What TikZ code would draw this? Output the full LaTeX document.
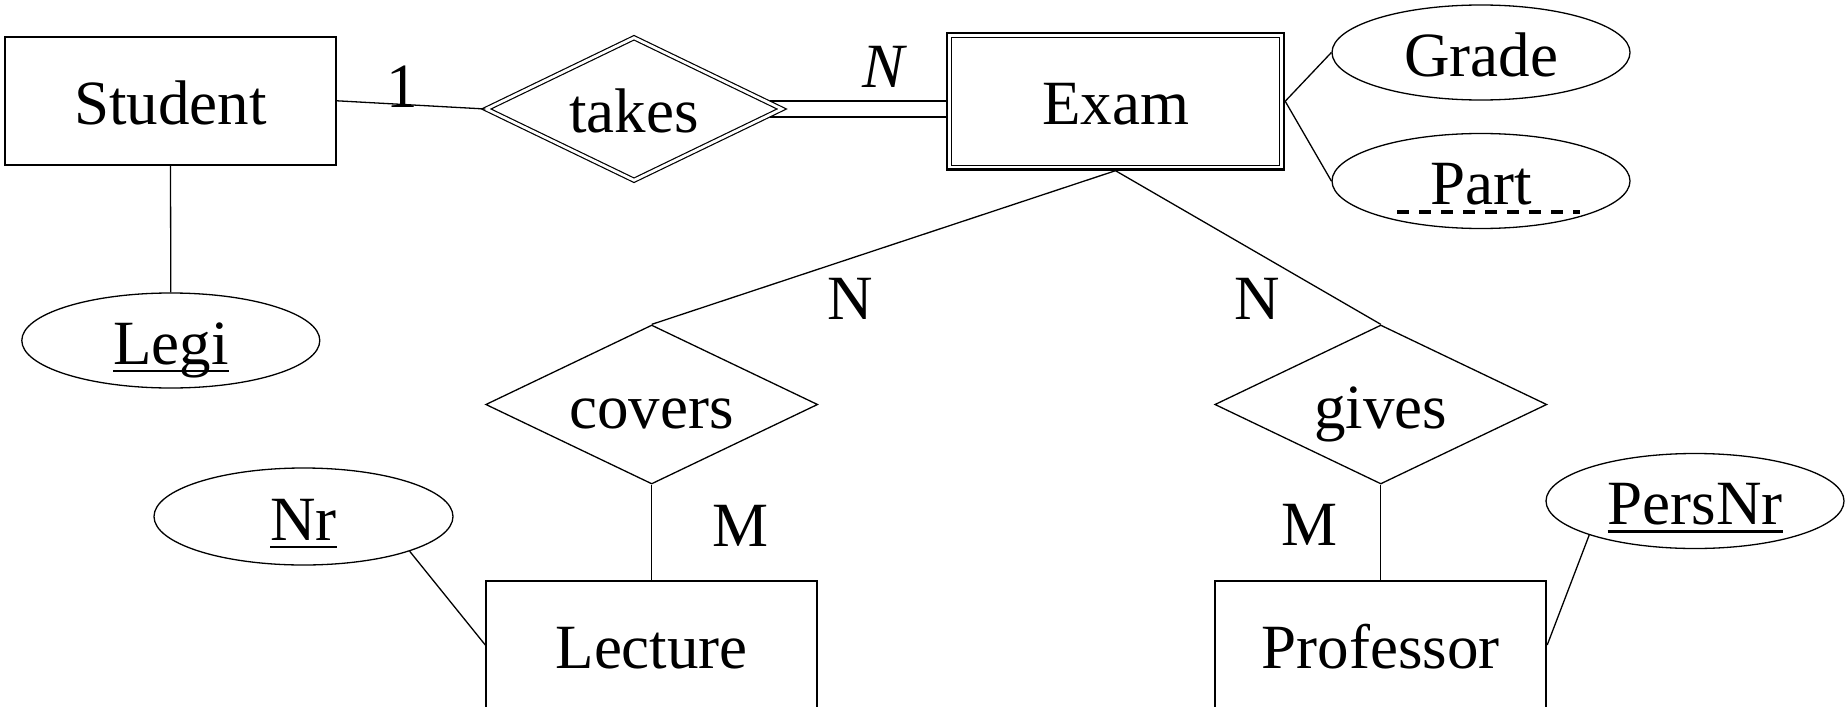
\documentclass[tikz,border=0pt]{standalone}
\usepackage{fontspec}
\setmainfont{Liberation Serif}
\usetikzlibrary{shapes.geometric,calc}
% key attribute: solid rule under the word
\newcommand\keyattr[1]{\setbox0\hbox{#1}\rlap{\rule[-4.2pt]{\wd0}{1.4pt}}\box0}
\begin{document}
\begin{tikzpicture}[x=0.5pt,y=-0.5pt,
  base/.style={inner sep=0pt, text height=23.5pt, text depth=0pt,
    font=\fontsize{31.5pt}{36pt}\selectfont, line width=0.65pt},
  entity/.style={base, draw, rectangle, minimum width=165.5pt, minimum height=64pt, line width=0.9pt},
  attr/.style={base, draw, ellipse, minimum width=149pt, minimum height=47.5pt},
  rel/.style={base, draw, diamond, aspect=2.1, minimum width=166pt, minimum height=79.5pt},
  card/.style={anchor=base, inner sep=0pt, font=\fontsize{31.5pt}{36pt}\selectfont},
  link/.style={line width=0.65pt}]
\useasboundingbox (0,0) rectangle (1845,706);

% entities
\node[entity] (Student) at (170.5,100.8) {Student};
\node[entity, line width=1.2pt, minimum width=168.5pt, minimum height=68.25pt] (Exam) at (1115.5,101.25) {Exam};
\draw[line width=0.7pt] ([shift={(5.5,5.5)}]Exam.north west) rectangle ([shift={(-5.5,-5.5)}]Exam.south east);
\node[entity] (Lecture) at (651.7,645) {Lecture};
\node[entity] (Professor) at (1380.8,645) {Professor};

% relationships
\node[rel, double, double distance=1.4pt, line width=0.6pt, minimum width=148pt, minimum height=71.5pt] (takes) at (634,109) {takes};
\node[rel] (covers) at (651.7,404.5) {covers};
\node[rel] (gives) at (1380.8,404.5) {gives};

% attributes
\node[attr] (Legi) at (170.8,340.5) {\keyattr{Legi}};
\node[attr] (Grade) at (1481,52.5) {Grade};
\node[attr] (Part) at (1481,181) {Part};
\draw[line width=1.8pt, dash pattern=on 6pt off 5pt] ([shift={(-84,31)}]Part.center) -- ([shift={(99,31)}]Part.center);
\node[attr, minimum width=149.5pt, minimum height=48.5pt] (Nr) at (303.5,516.5) {\keyattr{Nr}};
\node[attr] (PersNr) at (1695,501) {\keyattr{PersNr}};

% connectors
\draw[link] (Student.east) -- (takes.west);
\draw[link] (Student.south) -- (Legi.north);
\draw[link] ($(takes.east)+(-13,-8)$) -- ($(takes.east -| Exam.west)+(0,-8)$);
\draw[link] ($(takes.east)+(-13,8)$) -- ($(takes.east -| Exam.west)+(0,8)$);
\draw[link] (Exam.east) -- (Grade.west);
\draw[link] (Exam.east) -- (Part.west);
\draw[link] (Exam.south) -- (covers.north);
\draw[link] (Exam.south) -- (gives.north);
\draw[link] (covers.south) -- (Lecture.north);
\draw[link] (gives.south) -- (Professor.north);
\draw[link] (Nr.south east) -- (Lecture.west);
\draw[link] (PersNr.south west) -- (Professor.east);

% cardinalities
\node[card] (c1) at (402,108) {1};
\node[card] (cN) at (883,88) {\itshape N};
\node[card] (cN1) at (850.5,319) {N};
\node[card] (cN2) at (1257.5,319) {N};
\node[card] (cM1) at (740.5,546.7) {M};
\node[card] (cM2) at (1309,545) {M};
\end{tikzpicture}
\end{document}
